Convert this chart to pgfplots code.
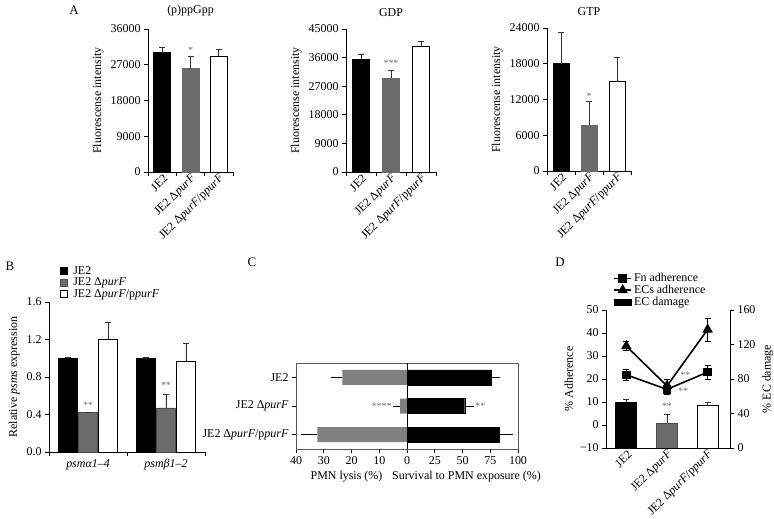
\documentclass[border=0pt]{standalone}
\usepackage{pgfplots}
\pgfplotsset{compat=1.18}
\usepackage{fontspec}
\setmainfont{Liberation Serif}
\newcommand{\fs}{\fontsize{12}{13.5}\selectfont}
\definecolor{bargray}{gray}{0.42}
\definecolor{cgray}{gray}{0.5}
\definecolor{stargray}{gray}{0.45}
\newcommand{\cA}{JE2}
\newcommand{\cB}{JE2 Δ\textit{purF}}
\newcommand{\cC}{JE2 Δ\textit{purF}/p\textit{purF}}
\pgfplotsset{
  base/.style={scale only axis, anchor=south west,
    axis x line*=bottom, axis y line*=left,
    axis line style={line width=0.8bp, black},
    tick align=outside, major tick length=4bp, minor tick length=4bp,
    tick style={line width=0.8bp, black},
    scaled ticks=false,
    /pgf/number format/assume math mode=true,
    /pgf/number format/1000 sep={},
    tick label style={font=\fs},
    label style={font=\fs},
    title style={font=\fs},
    clip=false,
  },
  panelA/.style={base, xmin=-0.5, xmax=2.5, ymin=0,
    xtick={0,1,2}, xticklabels={\cA,\cB,\cC},
    xticklabel style={rotate=45, anchor=east, inner sep=1bp, yshift=-3bp, xshift=3bp},
    major x tick style={draw=none}, minor xtick={-0.5,0.5,1.5,2.5},
    ylabel={Fluorescense intensity},
    title style={at={(0.5,1)}, anchor=south, yshift=3bp},
  },
  errp/.style={error bars/y dir=plus, error bars/y explicit,
    error bars/error bar style={line width=0.7bp, black!80},
    error bars/error mark options={rotate=90, mark size=3bp, line width=0.7bp, black!80}},
}
\begin{document}
\begin{tikzpicture}
\path[use as bounding box] (0bp,0bp) rectangle (774bp,519bp);
% panel letters
\node[font=\fontsize{13}{14}\selectfont] at (74bp,509bp) {A};
\node[font=\fontsize{13}{14}\selectfont] at (10bp,253bp) {B};
\node[font=\fontsize{13}{14}\selectfont] at (252bp,257bp) {C};
\node[font=\fontsize{13}{14}\selectfont] at (560bp,257bp) {D};

% ---------------- A1 ----------------
\begin{axis}[panelA, at={(148bp,347bp)}, width=85bp, height=143bp,
  ymax=36000, ytick={0,9000,18000,27000,36000}, title={(p)ppGpp}]
\addplot[ybar, bar width=17bp, fill=black, draw=black, line width=0.8bp, errp] coordinates {(0,30000) +- (0,1500)};
\addplot[ybar, bar width=17bp, fill=bargray, draw=bargray, line width=0.8bp, errp] coordinates {(1,26000) +- (0,3000)};
\addplot[ybar, bar width=17bp, fill=white, draw=black, line width=0.8bp, errp] coordinates {(2,29200) +- (0,1800)};
\node[stargray] at (axis cs:1,30600) {*};
\end{axis}

% ---------------- A2 ----------------
\begin{axis}[panelA, at={(346bp,347bp)}, width=90bp, height=143bp,
  ymax=45000, ytick={0,9000,18000,27000,36000,45000}, title={GDP}]
\addplot[ybar, bar width=17bp, fill=black, draw=black, line width=0.8bp, errp] coordinates {(0,35500) +- (0,1500)};
\addplot[ybar, bar width=17bp, fill=bargray, draw=bargray, line width=0.8bp, errp] coordinates {(1,29500) +- (0,2500)};
\addplot[ybar, bar width=17bp, fill=white, draw=black, line width=0.8bp, errp] coordinates {(2,39500) +- (0,1700)};
\node[stargray] at (axis cs:1,34300) {***};
\end{axis}

% ---------------- A3 ----------------
\begin{axis}[panelA, at={(547bp,348bp)}, width=84bp, height=143bp,
  ymax=24000, ytick={0,6000,12000,18000,24000}, title={GTP}]
\addplot[ybar, bar width=16bp, fill=black, draw=black, line width=0.8bp, errp] coordinates {(0,18000) +- (0,5300)};
\addplot[ybar, bar width=16bp, fill=bargray, draw=bargray, line width=0.8bp, errp] coordinates {(1,7700) +- (0,4000)};
\addplot[ybar, bar width=16bp, fill=white, draw=black, line width=0.8bp, errp] coordinates {(2,15000) +- (0,4100)};
\node[stargray] at (axis cs:1,12500) {*};
\end{axis}

% ---------------- B ----------------
\begin{axis}[base, at={(49bp,67bp)}, width=156bp, height=150bp,
  xmin=-0.5, xmax=1.5, ymin=0, ymax=1.6, ytick={0,0.4,0.8,1.2,1.6},
  yticklabel style={/pgf/number format/.cd, fixed, fixed zerofill, precision=1},
  xtick={0,1}, xticklabels={\textit{psmα1–4}, \textit{psmβ1–2}},
  major x tick style={draw=none}, minor xtick={-0.5,0.5,1.5},
  ybar=1bp, bar width=19bp,
  ylabel={Relative \textit{psms} expression},
  legend style={at={(0.06,1.0)}, anchor=south west, draw=none, fill=none, font=\fs, row sep=-2bp, inner sep=1bp},
  legend cell align=left,
  legend image code/.code={\draw[#1, line width=0.7bp] (0bp,-3.5bp) rectangle (7bp,3.5bp); \path (11bp,0bp);},
  ]
\addplot[fill=black, draw=black, line width=0.8bp, errp] coordinates {(0,1.0) +- (0,0.005) (1,1.0) +- (0,0.005)};
\addplot[fill=bargray, draw=black!70, line width=0.8bp, errp] coordinates {(0,0.42) +- (0,0.0) (1,0.47) +- (0,0.15)};
\addplot[fill=white, draw=black, line width=0.8bp, errp] coordinates {(0,1.20) +- (0,0.18) (1,0.97) +- (0,0.19)};
\legend{\cA,\cB,\cC}
\node[stargray] at (axis cs:0,0.50) {**};
\node[stargray] at (axis cs:1,0.715) {**};
\end{axis}

% ---------------- C (left: lysis) ----------------
\begin{axis}[scale only axis, anchor=south west, at={(296bp,70bp)}, width=111bp, height=86bp,
  clip=false, xmin=0, xmax=40, x dir=reverse, ymin=-0.5, ymax=2.5, y dir=reverse,
  xtick={0,10,20,30,40}, ytick={0,1,2}, yticklabels={\cA,\cB,\cC},
  xtick pos=left, ytick pos=left, tick align=outside, major tick length=4bp,
  tick style={line width=0.8bp, black},
  axis line style={line width=0.8bp, black!65},
  /pgf/number format/assume math mode=true,
  tick label style={font=\fs}, label style={font=\fs},
  xlabel={PMN lysis (\%)}, xlabel style={xshift=-5bp}]
\addplot[xbar, bar width=15bp, fill=cgray, draw=none,
  error bars/x dir=plus, error bars/x explicit,
  error bars/error bar style={line width=0.8bp, black},
  error bars/error mark options={mark size=3.5bp, line width=0.8bp, black}]
  coordinates {(23.3,0) +- (3,0) (2.5,1) +- (1.2,0) (32.3,2) +- (4.5,0)};
\node[stargray, anchor=east] at (axis cs:4.3,1) {****};
\end{axis}

% ---------------- C (right: survival) ----------------
\begin{axis}[scale only axis, anchor=south west, at={(407bp,70bp)}, width=111bp, height=86bp,
  clip=false, xmin=0, xmax=100, ymin=-0.5, ymax=2.5, y dir=reverse,
  xtick={25,50,75,100}, ytick=\empty,
  xtick pos=left, tick align=outside, major tick length=4bp,
  tick style={line width=0.8bp, black},
  axis line style={line width=0.8bp, black!65},
  /pgf/number format/assume math mode=true,
  tick label style={font=\fs}, label style={font=\fs},
  xlabel={Survival to PMN exposure (\%)}, xlabel style={xshift=4bp}]
\addplot[xbar, bar width=15bp, fill=black, draw=black,
  error bars/x dir=plus, error bars/x explicit,
  error bars/error bar style={line width=0.8bp, black},
  error bars/error mark options={mark size=3.5bp, line width=0.8bp, black}]
  coordinates {(76,0) +- (5,0) (52,1) +- (5.5,0) (83,2) +- (9.5,0)};
\draw[black, line width=0.9bp] (axis cs:0,-0.5) -- (axis cs:0,2.5);
\node[stargray, anchor=west] at (axis cs:58.5,1) {**};
\end{axis}

% ---------------- D (bars, right axis) ----------------
\begin{axis}[base, at={(606bp,71bp)}, width=124bp, height=138bp,
  axis y line*=right,
  xmin=-0.5, xmax=2.55, ymin=0, ymax=160, ytick={0,40,80,120,160},
  xtick={0,1,2}, xticklabels={\cA,\cB,\cC},
  xticklabel style={rotate=45, anchor=east, inner sep=1bp, yshift=-3bp, xshift=3bp},
  major x tick style={draw=none},
  ylabel={\% EC damage}]
\addplot[ybar, bar width=21bp, fill=black, draw=black, line width=0.8bp, errp] coordinates {(0,53) +- (0,3.5)};
\addplot[ybar, bar width=21bp, fill=bargray, draw=black!70, line width=0.8bp, errp] coordinates {(1,29) +- (0,10.5)};
\addplot[ybar, bar width=21bp, fill=white, draw=black, line width=0.8bp, errp] coordinates {(2,49) +- (0,4)};
\node[stargray] at (axis cs:1,48.7) {**};
\end{axis}

% ---------------- D (lines, left axis) ----------------
\begin{axis}[base, at={(606bp,71bp)}, width=124bp, height=138bp,
  xmin=-0.5, xmax=2.55, ymin=-10, ymax=50, ytick={-10,0,10,20,30,40,50},
  yticklabels={−10,0,10,20,30,40,50},
  xtick=\empty,
  ylabel={\% Adherence},
  legend style={at={(0.05,1.0)}, anchor=south west, draw=none, fill=none, font=\fs, row sep=-2bp, inner sep=1bp},
  legend cell align=left]
\addplot[black, line width=1.6bp, mark=square*, mark size=3.5bp,
  error bars/y dir=both, error bars/y explicit,
  error bars/error bar style={line width=0.8bp, black},
  error bars/error mark options={rotate=90, mark size=3bp, line width=0.8bp, black}]
  coordinates {(0,21.8) +- (0,2.4) (1,15.5) +- (0,2) (2,23) +- (0,3)};
\addplot[black, line width=1.6bp, mark=triangle*, mark size=4.5bp,
  error bars/y dir=both, error bars/y explicit,
  error bars/error bar style={line width=0.8bp, black},
  error bars/error mark options={rotate=90, mark size=3bp, line width=0.8bp, black}]
  coordinates {(0,34.3) +- (0,2) (1,17) +- (0,3) (2,41.5) +- (0,5)};
\addlegendimage{area legend, fill=black, draw=black}
\legend{Fn adherence, ECs adherence, EC damage}
\node[stargray] at (axis cs:1.45,21.7) {**};
\node[stargray] at (axis cs:1.4,14.8) {**};
\end{axis}
\end{tikzpicture}
\end{document}
